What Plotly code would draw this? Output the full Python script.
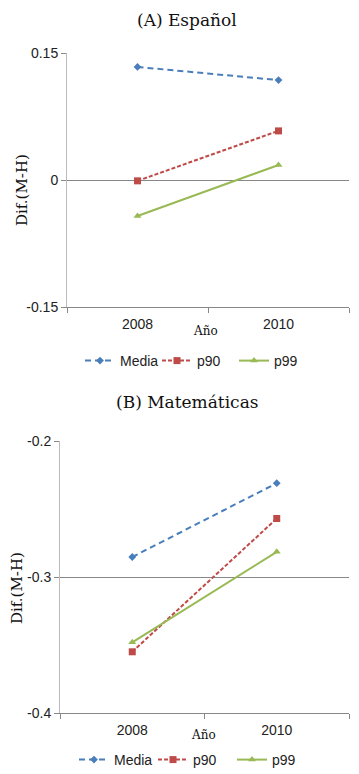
import plotly.graph_objects as go

years = ["2008", "2010"]
series = ["Media", "p90", "p99"]
esp_media = [0.1335, 0.118]
esp_p90 = [-0.001, 0.058]
esp_p99 = [-0.0425, 0.0177]
mat_media = [-0.2853, -0.231]
mat_p90 = [-0.355, -0.257]
mat_p99 = [-0.348, -0.2815]
esp_ticks = [-0.15, 0, 0.15]
esp_ticklabels = ["-0.15", "0", "0.15"]
mat_ticks = [-0.4, -0.3, -0.2]
mat_ticklabels = ["-0.4", "-0.3", "-0.2"]

# page body has an 8px margin: figure is sized to fit the window after it
OFF = 8
W, H = 359 - OFF, 774 - OFF


def px(x):
    return (x - OFF) / W


def py(y):
    return 1 - (y - OFF) / H


colors = ["#4a7ebb", "#be4b48", "#98b954"]
dashes = ["6px,4px", "4px,2px", "solid"]
symbols = ["diamond", "square", "triangle-up"]
sizes = [6, 7, 7]
narrow = "Liberation Sans Narrow, Arial Narrow, sans-serif"
tickfont = dict(family=narrow, size=14, color="#222")
serif = "DejaVu Serif, Liberation Serif, serif"

fig = go.Figure()
xs = list(range(len(years)))
for i, (name, vals) in enumerate(zip(series, [esp_media, esp_p90, esp_p99])):
    fig.add_trace(go.Scatter(x=xs, y=vals, name=name, mode="lines+markers",
                             line=dict(color=colors[i], dash=dashes[i], width=2),
                             marker=dict(symbol=symbols[i], size=sizes[i], color=colors[i]),
                             xaxis="x", yaxis="y", legend="legend"))
for i, (name, vals) in enumerate(zip(series, [mat_media, mat_p90, mat_p99])):
    fig.add_trace(go.Scatter(x=xs, y=vals, name=name, mode="lines+markers",
                             line=dict(color=colors[i], dash=dashes[i], width=2),
                             marker=dict(symbol=symbols[i], size=sizes[i], color=colors[i]),
                             xaxis="x2", yaxis="y2", legend="legend2"))

xcommon = dict(range=[-0.5, 1.5], tickvals=xs, ticktext=years, ticks="", automargin=False,
               showgrid=False, zeroline=False, showline=True, linecolor="#888", linewidth=1,
               tickfont=tickfont, ticklabelstandoff=4,
               minor=dict(tick0=-0.5, dtick=1, ticks="outside", ticklen=5, tickcolor="#888", showgrid=False))
ycommon = dict(showgrid=True, gridcolor="#888", gridwidth=1, zeroline=False, automargin=False,
               showline=True, linecolor="#bbb", linewidth=1, ticks="outside", ticklen=5,
               tickcolor="#888", tickfont=tickfont)
legfont = dict(family=narrow, size=14, color="#222")


def ann(text, x, y, size, angle=0, yanchor="middle"):
    return dict(text=text, x=px(x), y=py(y), xref="paper", yref="paper", textangle=angle,
                xanchor="center", yanchor=yanchor, showarrow=False,
                font=dict(family=serif, size=size, color="#111"))


fig.update_layout(
    width=W, height=H, margin=dict(l=0, r=0, t=0, b=0, autoexpand=False),
    paper_bgcolor="white", plot_bgcolor="white", showlegend=True,
    xaxis=dict(domain=[px(67), px(349)], anchor="y", **xcommon),
    yaxis=dict(domain=[py(307), py(53)], anchor="x", range=[-0.15, 0.15],
               tickvals=esp_ticks, ticktext=esp_ticklabels, **ycommon),
    xaxis2=dict(domain=[px(60), px(349)], anchor="y2", **xcommon),
    yaxis2=dict(domain=[py(713), py(441)], anchor="x2", range=[-0.4, -0.2],
                tickvals=mat_ticks, ticktext=mat_ticklabels, **ycommon),
    legend=dict(orientation="h", x=px(80), xanchor="left", y=py(361), yanchor="middle",
                font=legfont, entrywidth=32, entrywidthmode="pixels", bgcolor="rgba(0,0,0,0)"),
    legend2=dict(orientation="h", x=px(74), xanchor="left", y=py(760), yanchor="middle",
                 font=legfont, entrywidth=34, entrywidthmode="pixels", bgcolor="rgba(0,0,0,0)"),
    annotations=[
        ann("(A) Español", 187, 8, 17, yanchor="top"),
        ann("(B) Matemáticas", 187, 402, 17),
        ann("Dif.(M-H)", 22, 190, 15, -90),
        ann("Dif.(M-H)", 17, 588, 15, -90),
        ann("Año", 205, 331, 12),
        ann("Año", 203, 735, 12),
    ],
)

fig.write_html("out.html")
